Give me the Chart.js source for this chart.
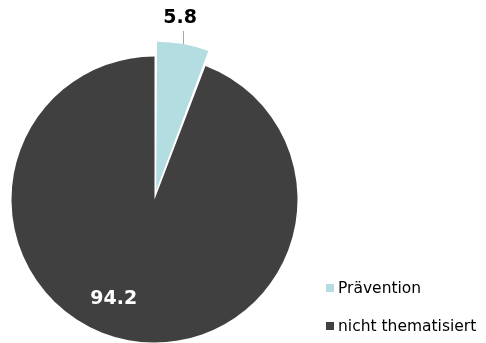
<!DOCTYPE html>
<html>
<head>
<meta charset="utf-8">
<script src="https://cdn.jsdelivr.net/npm/chart.js@4/dist/chart.umd.min.js"></script>
<style>
  html, body { margin: 0; padding: 0; background: #fff; }
  #wrap { width: 486px; height: 343px; position: relative; }
</style>
</head>
<body>
<div id="wrap"><canvas id="pieChart"></canvas></div>
<script>
const categories = ['Prävention', 'nicht thematisiert'];
const shares = [5.8, 94.2];
const sliceColors = ['#b4dde2', '#404040'];
const sliceOffsets = [36.5, 0];

const fontFamily = '"DejaVu Sans", sans-serif';

// labels + legend drawn on the canvas
const labelPlugin = {
    id: 'pieLabels',
    afterDraw(chart) {
        const ctx = chart.ctx;
        const arcs = chart.getDatasetMeta(0).data;
        ctx.save();
        ctx.textAlign = 'center';
        ctx.textBaseline = 'middle';
        ctx.font = 'bold 19px ' + fontFamily;

        // small slice: value above with leader line
        const a = arcs[0];
        const mid0 = (a.startAngle + a.endAngle) / 2;
        // same shift as ArcElement.draw applies for offset
        const shift = sliceOffsets[0] / 4 * (2 - Math.sin(Math.min(Math.PI, a.circumference)));
        const ox = a.x + Math.cos(mid0) * (a.outerRadius + shift);
        const oy = a.y + Math.sin(mid0) * (a.outerRadius + shift);
        ctx.strokeStyle = '#a6a6a6';
        ctx.lineWidth = 1;
        ctx.beginPath();
        ctx.moveTo(Math.round(ox) + 0.5, oy);
        ctx.lineTo(Math.round(ox) + 0.5, 31);
        ctx.stroke();
        ctx.fillStyle = '#000';
        ctx.fillText(shares[0].toFixed(1), ox - 3, 18);

        // big slice: value inside in white
        const b = arcs[1];
        const ang = b.startAngle + (b.endAngle - b.startAngle) * 0.535;
        ctx.fillStyle = '#fff';
        ctx.fillText(shares[1].toFixed(1), b.x + Math.cos(ang) * b.outerRadius * 0.75,
            b.y + Math.sin(ang) * b.outerRadius * 0.75);

        // legend
        ctx.font = '15.5px ' + fontFamily;
        ctx.textAlign = 'left';
        const legendY = [288, 326];
        categories.forEach((name, i) => {
            ctx.fillStyle = sliceColors[i];
            ctx.fillRect(326, legendY[i] - 4, 8, 8);
            ctx.fillStyle = '#000';
            ctx.fillText(name, 338, legendY[i] + 1);
        });
        ctx.restore();
    }
};

new Chart(document.getElementById('pieChart'), {
    type: 'pie',
    data: {
        labels: categories,
        datasets: [{
            data: shares,
            backgroundColor: sliceColors,
            borderWidth: 0,
            offset: sliceOffsets,
            radius: 143
        }]
    },
    options: {
        responsive: true,
        maintainAspectRatio: false,
        animation: false,
        layout: { padding: { left: 0, right: 177, top: 56, bottom: 0 } },
        plugins: {
            legend: { display: false },
            tooltip: { enabled: false }
        }
    },
    plugins: [labelPlugin]
});
</script>
</body>
</html>
